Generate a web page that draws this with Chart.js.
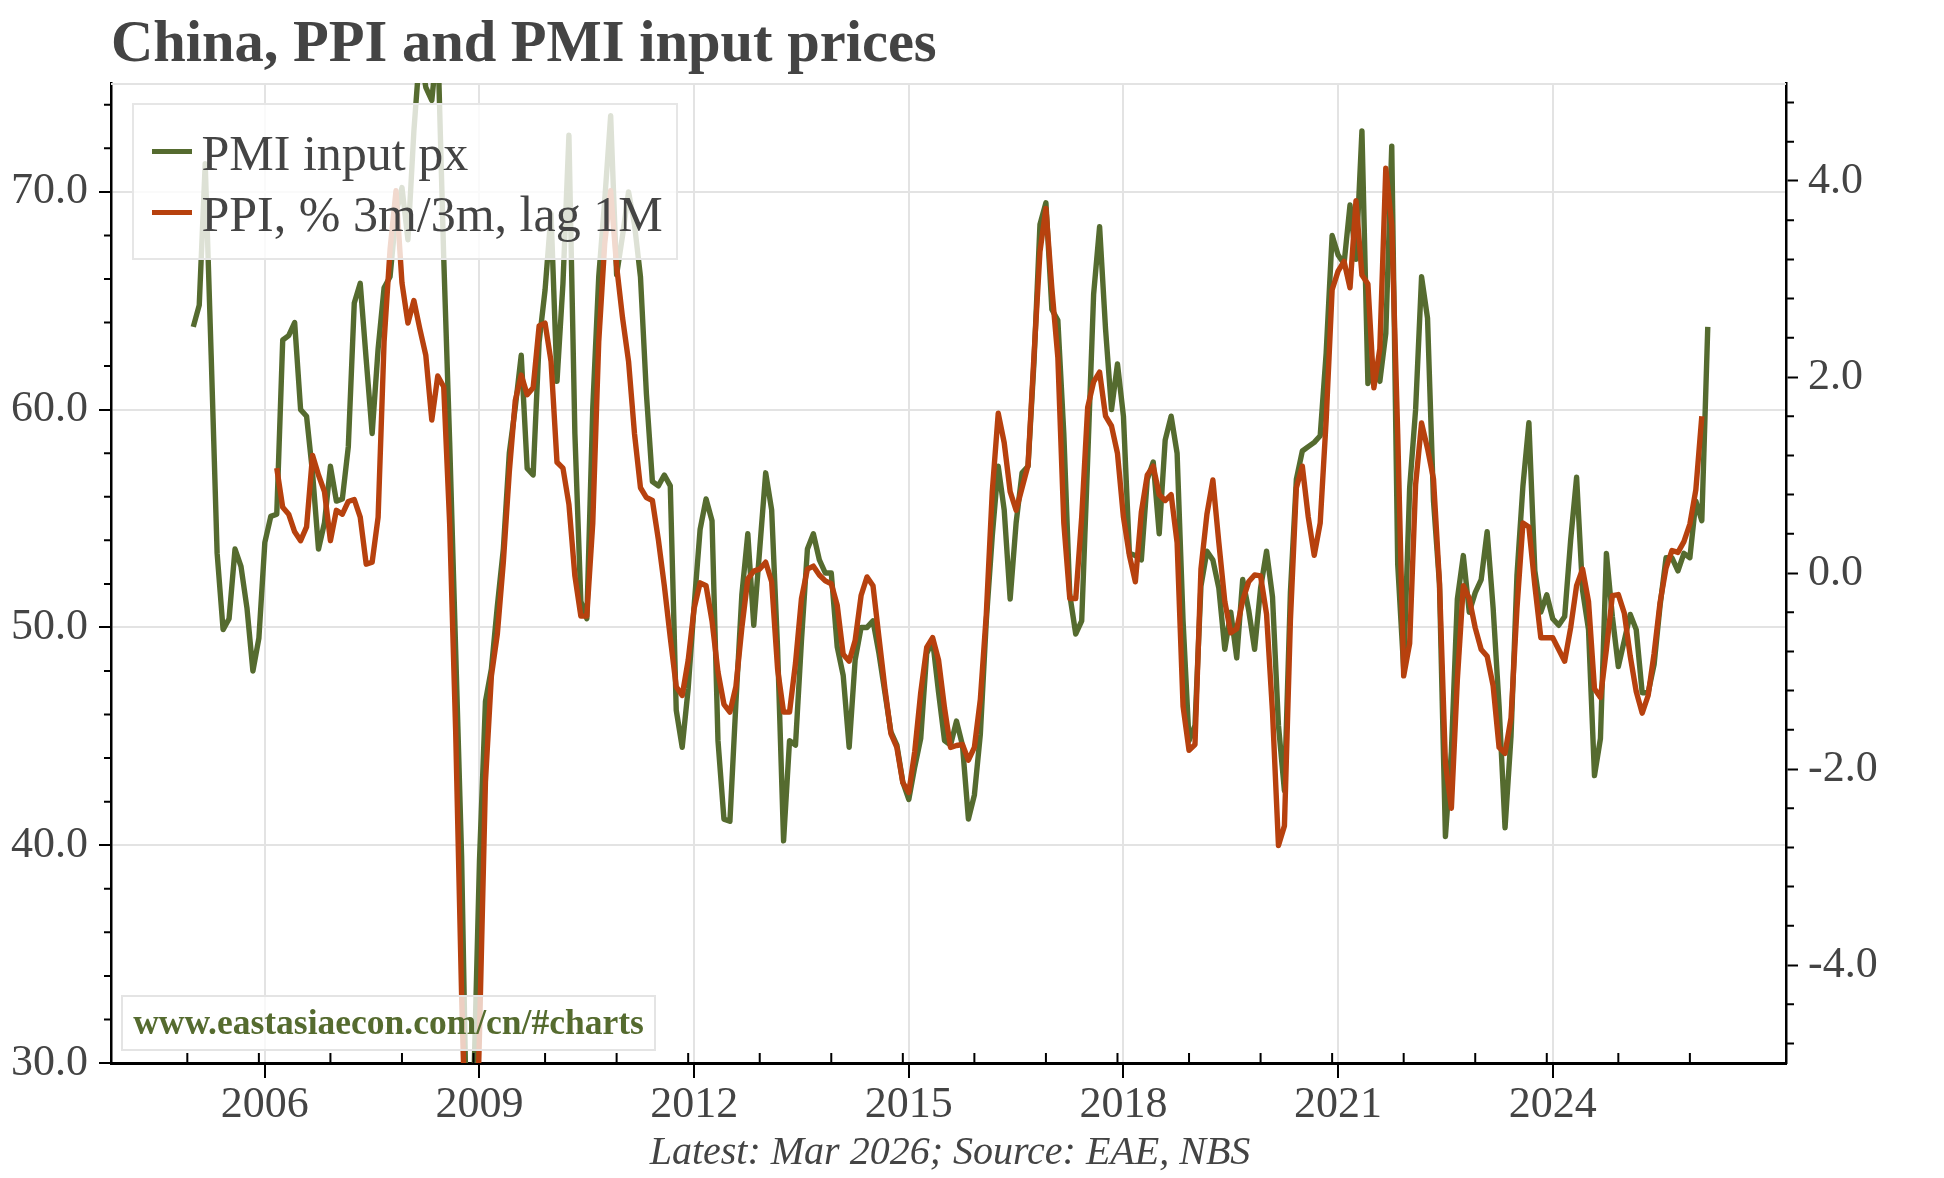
<!DOCTYPE html>
<html>
<head>
<meta charset="utf-8">
<script src="https://cdn.jsdelivr.net/npm/chart.js@4.4.1/dist/chart.umd.min.js"></script>
<style>
  html, body { margin: 0; padding: 0; background: #ffffff; }
  #wrap { position: relative; width: 1944px; height: 1178px; overflow: hidden; background: #ffffff; }
  #c { position: absolute; left: 0; top: 0; }
  .txt { position: absolute; white-space: nowrap; font-family: 'Liberation Serif', serif; color: #444444; }
  #title { left: 111px; top: 13px; font-size: 58.5px; line-height: 58.5px; font-weight: bold; }
  #caption { left: 0; width: 1900px; text-align: center; top: 1131px; font-size: 40px; line-height: 40px; font-style: italic; }
  #legend { position: absolute; box-sizing: border-box; background: rgba(255,255,255,0.8); border: 2px solid #e6e6e6; }
  .lgline { position: absolute; height: 5px; width: 40px; }
  .lgtext { position: absolute; font-size: 50px; line-height: 50px; }
  #wm { position: absolute; box-sizing: border-box; background: rgba(255,255,255,0.75); border: 2px solid #e4e4e4;
        font-family: 'Liberation Serif', serif; font-weight: bold; font-size: 35.5px; color: #556B2F;
        text-align: center; white-space: nowrap; }
</style>
</head>
<body>
<div id="wrap">
  <canvas id="c" width="1944" height="1178"></canvas>
  <div id="title" class="txt">China, PPI and PMI input prices</div>
  <div id="caption" class="txt">Latest: Mar 2026; Source: EAE, NBS</div>
  <div id="legend"></div>
  <div id="wm">www.eastasiaecon.com/cn/#charts</div>
</div>
<script>
// ---------------- data ----------------
const seriesLabels = ['PMI input px', 'PPI, % 3m/3m, lag 1M'];
const seriesColors = ['#556B2F', '#B7410E'];

// PMI input prices, monthly from Jan 2005 to Mar 2026
const pmiStart = [2005, 1];
const pmiInput = [
  63.8, 64.8, 71.3, 62.5, 53.4, 49.9, 50.4, 53.6, 52.8, 50.9, 48.0, 49.5,   // 2005
  53.9, 55.1, 55.2, 63.2, 63.4, 64.0, 60.0, 59.7, 57.1, 53.6, 54.8, 57.4,   // 2006
  55.8, 55.9, 58.3, 64.9, 65.8, 62.3, 58.9, 62.8, 65.6, 66.1, 69.0, 70.2,   // 2007
  67.8, 72.8, 76.5, 74.8, 74.2, 77.0, 67.0, 58.5, 49.0, 39.5, 24.5, 28.5,   // 2008
  39.3, 46.6, 48.1, 51.0, 53.6, 58.0, 60.1, 62.5, 57.3, 57.0, 63.1, 65.5,   // 2009
  69.0, 61.3, 65.8, 72.6, 58.9, 51.2, 50.4, 60.1, 66.1, 69.6, 73.5, 66.2,   // 2010
  68.0, 70.0, 68.5, 66.1, 60.7, 56.7, 56.5, 57.0, 56.5, 46.2, 44.5, 47.2,   // 2011
  51.0, 54.5, 55.9, 54.9, 44.8, 41.2, 41.1, 46.5, 51.5, 54.3, 50.1, 53.6,   // 2012
  57.1, 55.4, 49.0, 40.2, 44.8, 44.6, 49.4, 53.6, 54.3, 53.1, 52.5, 52.5,   // 2013
  49.1, 47.8, 44.5, 48.5, 50.0, 50.0, 50.3, 48.8, 47.0, 45.2, 44.6, 42.9,   // 2014
  42.1, 43.6, 44.9, 48.8, 49.4, 47.0, 44.8, 44.6, 45.7, 44.6, 41.2, 42.3,   // 2015
  45.1, 50.3, 54.2, 57.4, 55.4, 51.3, 54.8, 57.1, 57.4, 62.2, 68.5, 69.5,   // 2016
  64.6, 64.1, 58.9, 51.5, 49.7, 50.3, 57.7, 65.3, 68.4, 63.7, 60.0, 62.1,   // 2017
  59.7, 53.4, 53.3, 53.1, 56.8, 57.6, 54.3, 58.6, 59.7, 58.0, 50.3, 44.8,   // 2018
  45.5, 51.9, 53.5, 53.1, 51.8, 49.0, 50.7, 48.6, 52.2, 50.8, 49.0, 51.8,   // 2019
  53.5, 51.4, 45.5, 42.5, 51.6, 56.8, 58.1, 58.3, 58.5, 58.8, 62.6, 68.0,   // 2020
  67.1, 66.7, 69.4, 66.9, 72.8, 61.2, 62.0, 61.3, 63.5, 72.1, 52.9, 48.1,   // 2021
  56.4, 60.0, 66.1, 64.2, 55.8, 52.0, 40.4, 44.3, 51.3, 53.3, 50.7, 51.6,   // 2022
  52.2, 54.4, 50.9, 46.4, 40.8, 45.0, 52.4, 56.5, 59.4, 52.6, 50.7, 51.5,   // 2023
  50.4, 50.1, 50.5, 54.0, 56.9, 51.7, 49.9, 43.2, 44.9, 53.4, 50.5, 48.2,   // 2024
  49.4, 50.6, 49.9, 47.0, 47.0, 48.3, 51.0, 53.2, 53.2, 52.6, 53.4, 53.2,   // 2025
  55.8, 54.9, 63.8                                                          // 2026
];

// PPI % 3m/3m (lagged 1M), monthly from Mar 2006 to Feb 2026
const ppiStart = [2006, 3];
const ppi3m3m = [
  1.07, 0.67, 0.60, 0.42, 0.33, 0.47, 1.20, 1.00, 0.83, 0.33,                   // 2006 (Mar-Dec)
  0.64, 0.60, 0.73, 0.75, 0.57, 0.09, 0.11, 0.57, 2.36, 3.30, 3.90, 2.96,       // 2007
  2.55, 2.78, 2.49, 2.22, 1.56, 2.01, 1.90, 0.50, -1.60, -4.30, -6.50, -7.00,   // 2008
  -4.70, -2.13, -1.05, -0.62, 0.11, 1.03, 1.76, 2.02, 1.82, 1.89, 2.52, 2.55,   // 2009
  2.16, 1.13, 1.07, 0.70, -0.03, -0.44, -0.44, 0.51, 2.36, 3.36, 3.90, 3.13,    // 2010
  2.60, 2.16, 1.42, 0.87, 0.77, 0.74, 0.34, -0.13, -0.66, -1.16, -1.25, -0.89,  // 2011
  -0.36, -0.10, -0.13, -0.49, -1.01, -1.34, -1.42, -1.16, -0.56, -0.06, 0.02, 0.04, // 2012
  0.11, -0.09, -0.98, -1.42, -1.42, -0.92, -0.26, 0.04, 0.07, -0.02, -0.08, -0.11, // 2013
  -0.33, -0.83, -0.90, -0.69, -0.23, -0.04, -0.13, -0.66, -1.18, -1.64, -1.78, -2.14, // 2014
  -2.24, -1.82, -1.22, -0.76, -0.66, -0.89, -1.38, -1.78, -1.76, -1.75, -1.91, -1.78, // 2015
  -1.29, -0.42, 0.83, 1.63, 1.33, 0.83, 0.64, 0.87, 1.10, 2.22, 3.28, 3.72,     // 2016
  2.90, 2.20, 0.51, -0.26, -0.26, 0.57, 1.69, 1.95, 2.05, 1.60, 1.50, 1.22,     // 2017
  0.57, 0.18, -0.09, 0.62, 1.00, 1.09, 0.80, 0.74, 0.80, 0.31, -1.36, -1.81,    // 2018
  -1.75, 0.04, 0.60, 0.95, 0.31, -0.29, -0.61, -0.57, -0.28, -0.09, -0.02, -0.03, // 2019
  -0.42, -1.42, -2.78, -2.58, -0.49, 0.87, 1.09, 0.57, 0.18, 0.51, 1.56, 2.89,  // 2020
  3.08, 3.18, 2.91, 3.80, 3.04, 2.95, 1.89, 2.29, 4.13, 3.55, 1.42, -1.05,      // 2021
  -0.72, 0.90, 1.53, 1.27, 0.96, -0.09, -1.94, -2.40, -1.09, -0.13, -0.26, -0.56, // 2022
  -0.78, -0.85, -1.15, -1.78, -1.84, -1.48, -0.36, 0.51, 0.47, -0.13, -0.66, -0.66, // 2023
  -0.66, -0.78, -0.90, -0.56, -0.13, 0.04, -0.29, -1.18, -1.27, -0.78, -0.23, -0.22, // 2024
  -0.41, -0.85, -1.21, -1.43, -1.25, -0.82, -0.30, 0.05, 0.23, 0.21, 0.32, 0.50, // 2025
  0.85, 1.60                                                                    // 2026 (Jan-Feb)
];

// axis ticks and labels
const xTickYears  = [2006, 2009, 2012, 2015, 2018, 2021, 2024];
const xTickLabels = ['2006', '2009', '2012', '2015', '2018', '2021', '2024'];
const leftTicks   = [30, 40, 50, 60, 70];
const rightTicks  = [-4, -2, 0, 2, 4];
const xRange = [2003.85, 2027.26];
const leftRange = [30, 75];
const rightRange = [-5, 5];
const watermark = 'www.eastasiaecon.com/cn/#charts';

// ---------------- build ----------------
function toPoints(start, values) {
  return values.map((v, i) => ({ x: start[0] + (start[1] - 1 + i) / 12, y: v }));
}
const FONT = "'Liberation Serif', serif";
const tickFont = { family: FONT, size: 44 };

const minorTicks = {
  id: 'minorTicks',
  beforeDatasetsDraw(chart) {
    const { ctx, chartArea: a } = chart;
    ctx.save();
    ctx.strokeStyle = '#e3e3e3';
    ctx.lineWidth = 2;
    ctx.beginPath();
    ctx.moveTo(a.left, a.top + 1);
    ctx.lineTo(a.right, a.top + 1);
    ctx.stroke();
    ctx.restore();
  },
  afterDraw(chart) {
    const { ctx, chartArea: a, scales } = chart;
    ctx.save();
    ctx.strokeStyle = '#000';
    ctx.lineWidth = 2;
    ctx.beginPath();
    for (let yr = 2004; yr <= 2025; yr++) {
      const px = scales.x.getPixelForValue(yr + 11 / 12);
      ctx.moveTo(px, a.bottom);
      ctx.lineTo(px, a.bottom - 10);
    }
    for (let v = 32; v < 75; v += 2) {
      if (v % 10 === 0) continue;
      const py = scales.y.getPixelForValue(v);
      ctx.moveTo(a.left - 7, py);
      ctx.lineTo(a.left, py);
    }
    for (let k = -12; k <= 12; k++) {
      if (k % 5 === 0) continue;
      const py = scales.y1.getPixelForValue(k * 0.4);
      ctx.moveTo(a.right, py);
      ctx.lineTo(a.right + 8, py);
    }
    ctx.stroke();
    ctx.restore();
  }
};

const chart = new Chart(document.getElementById('c'), {
  type: 'line',
  data: {
    datasets: [
      { label: seriesLabels[0], data: toPoints(pmiStart, pmiInput), yAxisID: 'y',
        borderColor: seriesColors[0], backgroundColor: seriesColors[0], borderWidth: 5.4,
        pointRadius: 0, tension: 0, borderJoinStyle: 'round', order: 1 },
      { label: seriesLabels[1], data: toPoints(ppiStart, ppi3m3m), yAxisID: 'y1',
        borderColor: seriesColors[1], backgroundColor: seriesColors[1], borderWidth: 5.4,
        pointRadius: 0, tension: 0, borderJoinStyle: 'round', order: 0 }
    ]
  },
  options: {
    responsive: false,
    devicePixelRatio: 1,
    animation: false,
    layout: { padding: { top: 83, left: 0, right: 0, bottom: 0 } },
    plugins: { legend: { display: false }, title: { display: false }, tooltip: { enabled: false } },
    scales: {
      x: {
        type: 'linear', min: xRange[0], max: xRange[1],
        afterBuildTicks: s => { s.ticks = xTickYears.map(v => ({ value: v })); },
        afterFit: s => { s.height = 115; },
        ticks: { callback: v => xTickLabels[xTickYears.indexOf(v)], autoSkip: false, maxRotation: 0,
                 font: tickFont, color: '#444444', padding: 1 },
        grid: { color: '#e3e3e3', lineWidth: 2, tickColor: '#000', tickLength: 15, tickWidth: 2 },
        border: { color: '#000', width: 3 }
      },
      y: {
        position: 'left', min: leftRange[0], max: leftRange[1],
        afterBuildTicks: s => { s.ticks = leftTicks.map(v => ({ value: v })); },
        afterFit: s => { s.width = 111; },
        ticks: { callback: v => Number(v).toFixed(1), font: tickFont, color: '#444444', padding: 11 },
        grid: { color: '#e3e3e3', lineWidth: 2, tickColor: '#000', tickLength: 12, tickWidth: 2 },
        border: { color: '#000', width: 2.5 }
      },
      y1: {
        position: 'right', min: rightRange[0], max: rightRange[1],
        afterBuildTicks: s => { s.ticks = rightTicks.map(v => ({ value: v })); },
        afterFit: s => { s.width = 158; },
        ticks: { callback: v => Number(v).toFixed(1), font: tickFont, color: '#444444', padding: 10 },
        grid: { drawOnChartArea: false, tickColor: '#000', tickLength: 12, tickWidth: 2 },
        border: { color: '#000', width: 2.5 }
      }
    }
  },
  plugins: [minorTicks]
});

// ---------------- overlays (legend, watermark) ----------------
const ca = chart.chartArea;
const lg = document.getElementById('legend');
lg.style.left = (ca.left + 20.5) + 'px';
lg.style.top = (ca.top + 20) + 'px';
lg.style.width = '546px';
lg.style.height = '157px';
chart.data.datasets.forEach((ds, i) => {
  const ln = document.createElement('div');
  ln.className = 'lgline';
  ln.style.left = '18px';
  ln.style.top = (43.5 + i * 61.3) + 'px';
  ln.style.background = ds.borderColor;
  lg.appendChild(ln);
  const tx = document.createElement('div');
  tx.className = 'txt lgtext';
  tx.style.left = '68px';
  tx.style.top = (23 + i * 61.3) + 'px';
  tx.textContent = ds.label;
  lg.appendChild(tx);
});
const wm = document.getElementById('wm');
wm.textContent = watermark;
wm.style.left = (ca.left + 10) + 'px';
wm.style.top = (ca.bottom - 68) + 'px';
wm.style.width = '535px';
wm.style.height = '56px';
wm.style.lineHeight = '50px';
</script>
</body>
</html>
